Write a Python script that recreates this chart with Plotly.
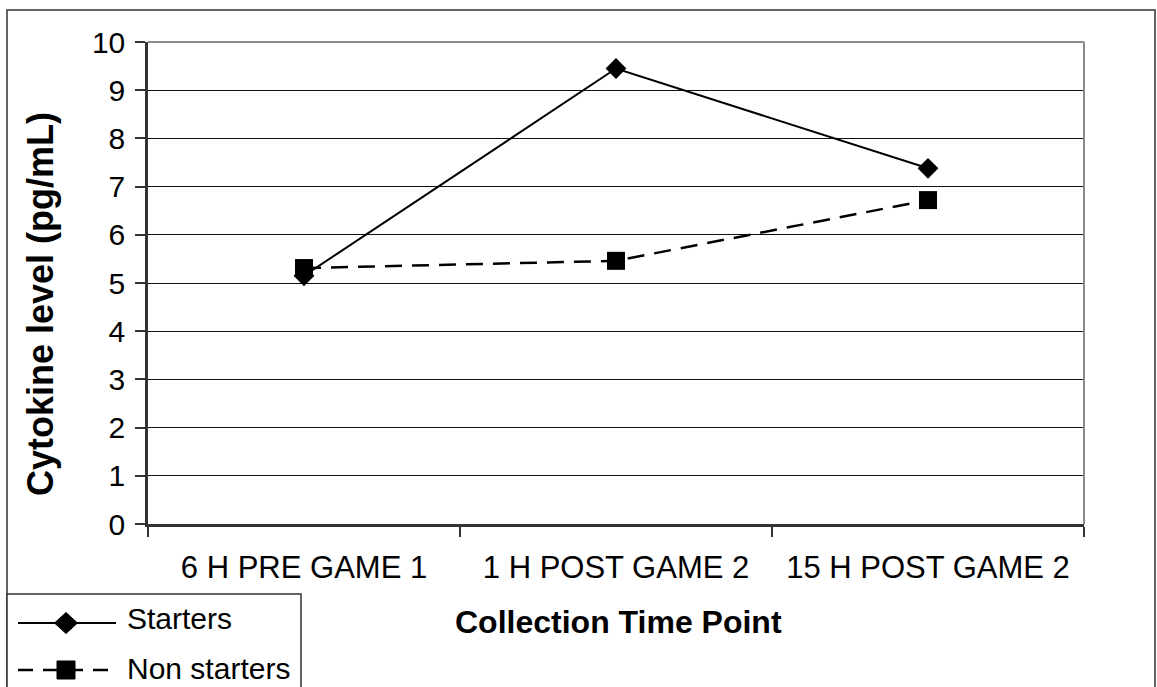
import plotly.graph_objects as go

# Collection time points and mean cytokine levels (pg/mL)
time_points = ["6 H PRE GAME 1", "1 H POST GAME 2", "15 H POST GAME 2"]
starters = [5.15, 9.45, 7.38]
non_starters = [5.31, 5.46, 6.72]
y_ticks = list(range(0, 11))

W, H = 1157, 687
FONT = "Liberation Sans, Arial, sans-serif"

# plot-area edges in pixels
PL, PR, PT, PB = 148, 1084, 42, 524


def px(x):
    return x / W


def py(y):
    return 1 - y / H


fig = go.Figure()

fig.add_trace(go.Scatter(
    x=time_points, y=starters, name="Starters", mode="lines+markers",
    line=dict(color="black", width=2),
    marker=dict(symbol="diamond", size=16, color="black"),
    cliponaxis=False,
))
fig.add_trace(go.Scatter(
    x=time_points, y=non_starters, name="Non starters", mode="lines+markers",
    line=dict(color="black", width=2.5, dash="17px,10px"),
    marker=dict(symbol="square", size=18, color="black"),
    cliponaxis=False,
))

shapes = [
    # outer frame
    dict(type="rect", xref="paper", yref="paper",
         x0=px(7), x1=px(1155), y0=py(H + 5), y1=py(10),
         line=dict(color="#333", width=1.5), layer="below"),
    # plot area top and right borders
    dict(type="line", xref="paper", yref="paper",
         x0=px(PL), x1=px(PR), y0=py(PT), y1=py(PT),
         line=dict(color="#8a8a8a", width=2), layer="above"),
    dict(type="line", xref="paper", yref="paper",
         x0=px(PR), x1=px(PR), y0=py(PT), y1=py(PB),
         line=dict(color="#8a8a8a", width=2), layer="above"),
    # legend box
    dict(type="rect", xref="paper", yref="paper",
         x0=px(7), x1=px(301), y0=py(H + 5), y1=py(594),
         line=dict(color="#333", width=1.5), fillcolor="white"),
    # legend samples
    dict(type="line", xref="paper", yref="paper",
         x0=px(18), x1=px(116), y0=py(623), y1=py(623),
         line=dict(color="black", width=2)),
    dict(type="path", xref="paper", yref="paper",
         path=(f"M {px(54.5)} {py(623)} L {px(66)} {py(612.5)} "
               f"L {px(77.5)} {py(623)} L {px(66)} {py(633.5)} Z"),
         fillcolor="black", line=dict(color="black", width=1)),
    dict(type="line", xref="paper", yref="paper",
         x0=px(18), x1=px(114), y0=py(670), y1=py(670),
         line=dict(color="black", width=2.5, dash="15px,10px")),
    dict(type="rect", xref="paper", yref="paper",
         x0=px(57), x1=px(75), y0=py(679), y1=py(661),
         fillcolor="black", line=dict(color="black", width=1)),
]

annotations = [
    dict(text="Starters", x=px(125), y=py(618), xref="paper", yref="paper",
         xanchor="left", yanchor="middle", showarrow=False,
         font=dict(family=FONT, size=30, color="black")),
    dict(text="Non starters", x=px(125), y=py(668), xref="paper", yref="paper",
         xanchor="left", yanchor="middle", showarrow=False,
         font=dict(family=FONT, size=30, color="black")),
    dict(text="<b>Collection Time Point</b>", x=px(618), y=py(622),
         xref="paper", yref="paper", xanchor="center", yanchor="middle",
         showarrow=False, font=dict(family=FONT, size=32, color="black")),
    dict(text="<b>Cytokine level (pg/mL)</b>", x=px(40), y=py(304),
         xref="paper", yref="paper", xanchor="center", yanchor="middle",
         textangle=-90, showarrow=False,
         font=dict(family=FONT, size=36, color="black")),
]

fig.update_layout(
    width=W, height=H,
    margin=dict(l=0, r=0, t=0, b=0),
    paper_bgcolor="white", plot_bgcolor="white",
    showlegend=False,
    font=dict(family=FONT, color="black"),
    xaxis=dict(
        domain=[px(PL), px(PR)], type="category", range=[-0.5, 2.5],
        categoryorder="array", categoryarray=time_points,
        tickson="boundaries", ticks="outside", ticklen=10, tickwidth=1.5,
        tickcolor="#333", showline=True, linecolor="#333", linewidth=2.5,
        showgrid=False, zeroline=False, automargin=False,
        tickfont=dict(family=FONT, size=31, color="black"),
        ticklabelstandoff=14,
    ),
    yaxis=dict(
        domain=[py(PB), py(PT)], range=[0, 10], tickvals=y_ticks,
        ticks="outside", ticklen=10, tickwidth=1.5, tickcolor="#333",
        showline=True, linecolor="#333", linewidth=2.5,
        showgrid=True, gridcolor="#111", gridwidth=1.2, zeroline=False,
        automargin=False,
        tickfont=dict(family=FONT, size=30, color="black"),
        ticklabelstandoff=4,
    ),
    shapes=shapes,
    annotations=annotations,
)

fig.write_html("out.html")
